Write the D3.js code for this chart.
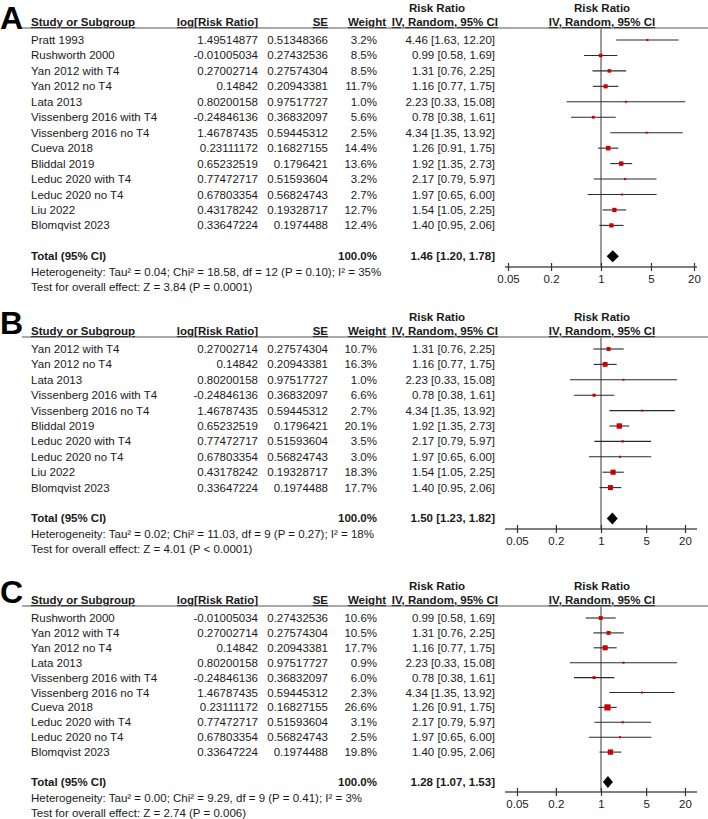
<!DOCTYPE html>
<html>
<head>
<meta charset="utf-8">
<script src="https://cdn.jsdelivr.net/npm/d3@7"></script>
<style>
    body { margin: 0; background: #fff; }
    svg { display: block; font-family: "Liberation Sans", Arial, sans-serif; }
    .txt { font-size: 11.5px; fill: #1a1a1a; }
    .bold { font-weight: bold; }
    .ul { text-decoration: underline; }
</style>
</head>
<body>
<div id="container"></div>
<script>
"use strict";

// all studies (shared between panels)
const STUDY_NAMES = ["Pratt 1993", "Rushworth 2000", "Yan 2012 with T4", "Yan 2012 no T4", "Lata 2013",
    "Vissenberg 2016 with T4", "Vissenberg 2016 no T4", "Cueva 2018", "Bliddal 2019", "Leduc 2020 with T4",
    "Leduc 2020 no T4", "Liu 2022", "Blomqvist 2023"];
const LOG_RR = ["1.49514877", "-0.01005034", "0.27002714", "0.14842", "0.80200158", "-0.24846136",
    "1.46787435", "0.23111172", "0.65232519", "0.77472717", "0.67803354", "0.43178242", "0.33647224"];
const SE = ["0.51348366", "0.27432536", "0.27574304", "0.20943381", "0.97517727", "0.36832097",
    "0.59445312", "0.16827155", "0.1796421", "0.51593604", "0.56824743", "0.19328717", "0.1974488"];
const RR = [4.46, 0.99, 1.31, 1.16, 2.23, 0.78, 4.34, 1.26, 1.92, 2.17, 1.97, 1.54, 1.40];
const RR_LOW = [1.63, 0.58, 0.76, 0.77, 0.33, 0.38, 1.35, 0.91, 1.35, 0.79, 0.65, 1.05, 0.95];
const RR_HIGH = [12.20, 1.69, 2.25, 1.75, 15.08, 1.61, 13.92, 1.75, 2.73, 5.97, 6.00, 2.25, 2.06];

// panels
const PANEL_LABELS = ["A", "B", "C"];
const PANEL_STUDIES = [
    [0, 1, 2, 3, 4, 5, 6, 7, 8, 9, 10, 11, 12],
    [2, 3, 4, 5, 6, 8, 9, 10, 11, 12],
    [1, 2, 3, 4, 5, 6, 7, 9, 10, 12]
];
const PANEL_WEIGHTS = [
    [3.2, 8.5, 8.5, 11.7, 1.0, 5.6, 2.5, 14.4, 13.6, 3.2, 2.7, 12.7, 12.4],
    [10.7, 16.3, 1.0, 6.6, 2.7, 20.1, 3.5, 3.0, 18.3, 17.7],
    [10.6, 10.5, 17.7, 0.9, 6.0, 2.3, 26.6, 3.1, 2.5, 19.8]
];
const TOTAL_RR = [1.46, 1.50, 1.28];
const TOTAL_LOW = [1.20, 1.23, 1.07];
const TOTAL_HIGH = [1.78, 1.82, 1.53];
const HETEROGENEITY = [
    "Heterogeneity: Tau\u00b2 = 0.04; Chi\u00b2 = 18.58, df = 12 (P = 0.10); I\u00b2 = 35%",
    "Heterogeneity: Tau\u00b2 = 0.02; Chi\u00b2 = 11.03, df = 9 (P = 0.27); I\u00b2 = 18%",
    "Heterogeneity: Tau\u00b2 = 0.00; Chi\u00b2 = 9.29, df = 9 (P = 0.41); I\u00b2 = 3%"
];
const OVERALL = [
    "Test for overall effect: Z = 3.84 (P = 0.0001)",
    "Test for overall effect: Z = 4.01 (P < 0.0001)",
    "Test for overall effect: Z = 2.74 (P = 0.006)"
];
const AXIS_TICKS = [0.05, 0.2, 1, 5, 20];

// layout
const WIDTH = 708;
const HEIGHT = 819;
const PANEL_TOP = [28, 337, 606];
const ROW_STEP = [15.45, 15.4, 14.9];
const AXIS_Y = [267, 529, 792];
const PLOT_RANGE = [[508, 694], [517, 685], [517, 685]];

const COL_NAME = 31;
const COL_LOG = 258;
const COL_SE = 328;
const COL_W = 377;
const COL_W_HEAD = 386;
const COL_CI = 495;
const COL_CI_HEAD = 498;
const COL_RR_HEAD = 437;
const PLOT_CENTER = 602;

const SVG = d3.select("div#container").append("svg")
    .attr("width", WIDTH)
    .attr("height", HEIGHT);

const fmtCI = (r, l, h) => `${r.toFixed(2)} [${l.toFixed(2)}, ${h.toFixed(2)}]`;

PANEL_LABELS.forEach((lab, p) => drawPanel(p));

function addText(g, x, y, str, anchor, cls) {
    return g.append("text")
        .attr("class", "txt " + (cls || ""))
        .attr("x", x)
        .attr("y", y)
        .attr("dy", "0.35em")
        .attr("text-anchor", anchor || "start")
        .text(str);
}

function drawPanel(p) {
    const g = SVG.append("g");
    const top = PANEL_TOP[p];
    const step = ROW_STEP[p];
    const ids = PANEL_STUDIES[p];
    const weights = PANEL_WEIGHTS[p];

    const x = d3.scaleLog().domain([0.05, 20]).range(PLOT_RANGE[p]);
    const y = d3.scaleLinear().domain([0, 1]).range([top + 12, top + 12 + step]);

    // panel letter (kept inside the top edge)
    g.append("text")
        .attr("x", 0)
        .attr("y", Math.max(top - 3, 29))
        .style("font-size", "32px")
        .style("font-weight", "bold")
        .attr("fill", "#000")
        .text(PANEL_LABELS[p]);

    // headers
    addText(g, COL_RR_HEAD, top - 20, "Risk Ratio", "middle", "bold");
    addText(g, PLOT_CENTER, top - 20, "Risk Ratio", "middle", "bold");
    addText(g, COL_NAME, top - 6, "Study or Subgroup", "start", "bold ul");
    addText(g, COL_LOG, top - 6, "log[Risk Ratio]", "end", "bold ul");
    addText(g, COL_SE, top - 6, "SE", "end", "bold ul");
    addText(g, COL_W_HEAD, top - 6, "Weight", "end", "bold ul");
    addText(g, COL_CI_HEAD, top - 6, "IV, Random, 95% CI", "end", "bold ul");
    addText(g, PLOT_CENTER, top - 6, "IV, Random, 95% CI", "middle", "bold ul");

    g.append("line")
        .attr("x1", 22).attr("x2", WIDTH)
        .attr("y1", top).attr("y2", top)
        .attr("stroke", "#555").attr("stroke-width", 1.2);

    // null line
    g.append("line")
        .attr("x1", x(1)).attr("x2", x(1))
        .attr("y1", top).attr("y2", AXIS_Y[p])
        .attr("stroke", "#7a7a7a").attr("stroke-width", 1.5);

    // study rows
    ids.forEach(function (id, i) {
        const yy = y(i);
        addText(g, COL_NAME, yy, STUDY_NAMES[id]);
        addText(g, COL_LOG, yy, LOG_RR[id], "end");
        addText(g, COL_SE, yy, SE[id], "end");
        addText(g, COL_W, yy, weights[i].toFixed(1) + "%", "end");
        addText(g, COL_CI, yy, fmtCI(RR[id], RR_LOW[id], RR_HIGH[id]), "end");

        g.append("line")
            .attr("x1", x(RR_LOW[id])).attr("x2", x(RR_HIGH[id]))
            .attr("y1", yy).attr("y2", yy)
            .attr("stroke", "#2a2a2a").attr("stroke-width", 1.1);

        const s = Math.max(2, 1.2 * Math.sqrt(weights[i]));
        g.append("rect")
            .attr("x", x(RR[id]) - s / 2)
            .attr("y", yy - s / 2)
            .attr("width", s).attr("height", s)
            .attr("fill", "#cc0000");
    });

    // total row
    const ty = y(ids.length + 1);
    addText(g, COL_NAME, ty, "Total (95% CI)", "start", "bold");
    addText(g, COL_W, ty, "100.0%", "end", "bold");
    addText(g, COL_CI, ty, fmtCI(TOTAL_RR[p], TOTAL_LOW[p], TOTAL_HIGH[p]), "end", "bold");
    addText(g, COL_NAME, ty + 16, HETEROGENEITY[p]);
    addText(g, COL_NAME, ty + 31, OVERALL[p]);

    const d = [
        [x(TOTAL_LOW[p]), ty], [x(TOTAL_RR[p]), ty - 6],
        [x(TOTAL_HIGH[p]), ty], [x(TOTAL_RR[p]), ty + 6]
    ];
    g.append("path")
        .attr("d", d3.line()(d) + "Z")
        .attr("fill", "#000");

    // axis
    g.append("line")
        .attr("x1", 505).attr("x2", 697)
        .attr("y1", AXIS_Y[p]).attr("y2", AXIS_Y[p])
        .attr("stroke", "#555").attr("stroke-width", 1.3);

    const axis = d3.axisBottom(x)
        .tickValues(AXIS_TICKS)
        .tickFormat(d3.format("~g"))
        .tickSize(4)
        .tickPadding(4);

    const ag = g.append("g")
        .attr("transform", `translate(0, ${AXIS_Y[p]})`)
        .call(axis);
    ag.select(".domain").remove();
    ag.selectAll(".tick line").attr("y1", -4).attr("stroke", "#333").attr("stroke-width", 1.2);
    ag.selectAll(".tick text")
        .attr("fill", "#1a1a1a")
        .style("font-size", "11.5px")
        .style("font-family", "'Liberation Sans', Arial, sans-serif");
}
</script>
</body>
</html>
